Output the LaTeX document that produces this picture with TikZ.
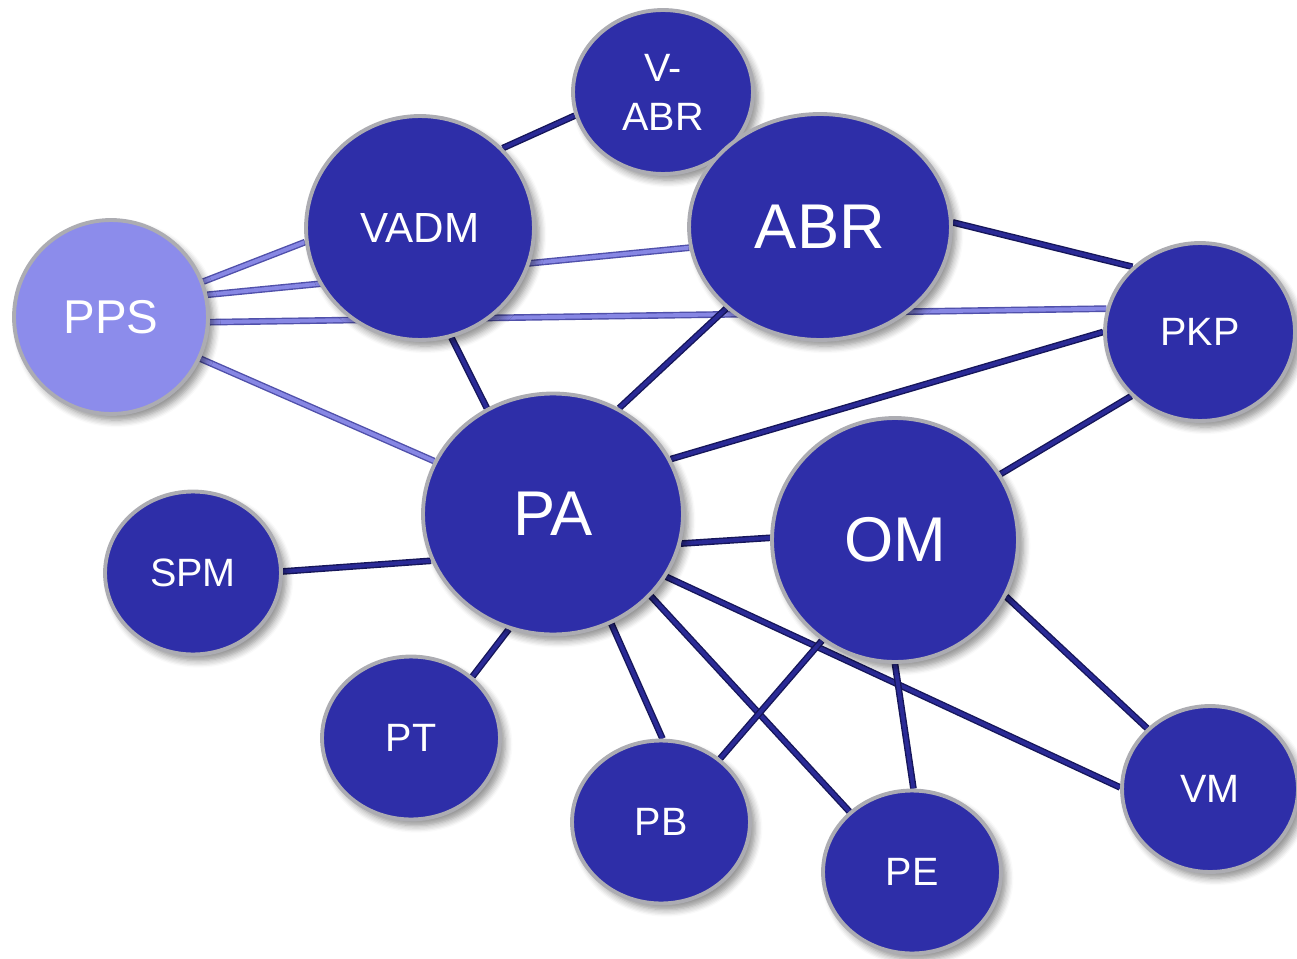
\documentclass[tikz,border=0pt]{standalone}
\usepackage{fontspec}
\setmainfont{Liberation Sans}
\usetikzlibrary{shapes.geometric,backgrounds,shadows.blur}
\definecolor{nodeblue}{RGB}{46,46,168}
\definecolor{ppsblue}{RGB}{140,140,235}
\definecolor{rimgray}{RGB}{172,172,178}
\definecolor{linkblue}{RGB}{42,42,150}
\definecolor{linkedge}{RGB}{22,22,90}
\definecolor{softblue}{RGB}{135,135,228}
\definecolor{softedge}{RGB}{80,80,170}
\tikzset{
  unit/.style={ellipse, fill=nodeblue, draw=rimgray, line width=2.2pt, text=white, inner sep=0pt,
    blur shadow={shadow xshift=3pt, shadow yshift=-3.5pt, shadow blur radius=4pt, shadow blur steps=6, shadow opacity=45}},
  sz/.style 2 args={minimum width=#1cm, minimum height=#2cm},
  bigtext/.style={font=\fontsize{36}{40}\selectfont},
  midtext/.style={font=\fontsize{24}{28}\selectfont},
  smalltext/.style={font=\fontsize{22.5}{27.8}\selectfont},
  link/.style={draw=linkedge, double=linkblue, double distance=2.2pt, line width=0.8pt},
  softlink/.style={draw=softedge, double=softblue, double distance=2.2pt, line width=0.8pt},
}

\begin{document}
\begin{tikzpicture}[x=0.02cm, y=-0.02cm]
  \useasboundingbox (0,0) rectangle (1297,959);

  \node[unit, sz={3.6}{3.28}, smalltext, align=center] (vabr) at (663,92) {V-\\ABR};
  \node[unit, sz={4.56}{4.48}, midtext] (vadm) at (420,228) {VADM};
  \node[unit, sz={5.24}{4.52}, bigtext] (abr) at (820,227) {ABR};
  \node[unit, sz={3.88}{3.88}, fill=ppsblue, font=\fontsize{27}{30}\selectfont] (pps) at (111,317) {PPS};
  \node[unit, sz={3.8}{3.56}, smalltext] (pkp) at (1200,332) {PKP};
  \node[unit, sz={5.2}{4.82}, bigtext] (pa) at (553,514) {PA};
  \node[unit, sz={4.92}{4.88}, bigtext] (om) at (895,540) {OM};
  \node[unit, sz={3.52}{3.26}, smalltext] (spm) at (193,573) {SPM};
  \node[unit, sz={3.56}{3.26}, smalltext] (pt) at (411,738) {PT};
  \node[unit, sz={3.56}{3.26}, smalltext] (pb) at (661,822) {PB};
  \node[unit, sz={3.56}{3.26}, smalltext] (pe) at (912,872) {PE};
  \node[unit, sz={3.52}{3.32}, smalltext] (vm) at (1210,789) {VM};

  \begin{scope}[on background layer]
    \draw[softlink] (pps.21) -- (vadm.187);
    \draw[softlink] (pps.13) -- (abr.189);
    \draw[softlink] (pps.-3) -- (pkp.166);
    \draw[softlink] (pps.-25) -- (pa.156);
    \draw[link] (vabr.195) -- (vadm.44);
    \draw[link] (abr.2) -- (pkp.136);
    \draw[link] (abr.221) -- (pa.58);
    \draw[link] (vadm.-74) -- (pa.122);
    \draw[link] (pa.25) -- (pkp.180);
    \draw[link] (om.32) -- (pkp.223);
    \draw[link] (pa.-13) -- (om.179);
    \draw[link] (spm.1) -- (pa.201);
    \draw[link] (pt.45) -- (pa.249);
    \draw[link] (pa.-62) -- (pb.89);
    \draw[link] (pa.-40) -- (pe.136);
    \draw[link] (pa.-29) -- (vm.179);
    \draw[link] (om.234) -- (pb.47);
    \draw[link] (om.-90) -- (pe.89);
    \draw[link] (om.-27) -- (vm.136);
  \end{scope}
\end{tikzpicture}
\end{document}
